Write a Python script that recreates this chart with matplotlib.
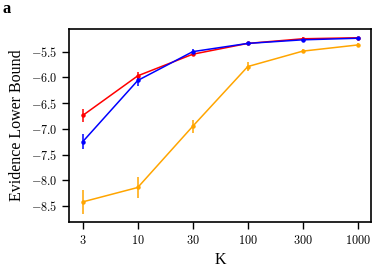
import numpy as np
import matplotlib
matplotlib.use("Agg")
import matplotlib.pyplot as plt

plt.rcParams['font.family'] = ['Liberation Serif', 'DejaVu Serif']
plt.rcParams['mathtext.fontset'] = 'cm'

K = [3, 10, 30, 100, 300, 1000]

orange_y = [-8.42, -8.14, -6.95, -5.79, -5.49, -5.37]
orange_err = [0.23, 0.20, 0.13, 0.08, 0.04, 0.03]

red_y = [-6.74, -5.97, -5.55, -5.34, -5.25, -5.23]
red_err = [0.13, 0.08, 0.04, 0.03, 0.03, 0.02]

blue_y = [-7.25, -6.06, -5.50, -5.34, -5.27, -5.24]
blue_err = [0.15, 0.10, 0.05, 0.03, 0.03, 0.02]

yticks = [-8.5, -8.0, -7.5, -7.0, -6.5, -6.0, -5.5]

fig = plt.figure(figsize=(3.74, 2.7), dpi=100)
ax = fig.add_axes([0.1845, 0.178, 0.8075, 0.7146])

x = np.arange(len(K))
for ys, es, c in [(orange_y, orange_err, 'orange'),
                  (red_y, red_err, 'red'),
                  (blue_y, blue_err, 'blue')]:
    ax.errorbar(x, ys, yerr=es, color=c, marker='o', markersize=2.2,
                linewidth=1.1, elinewidth=1.1, capsize=0)

ax.set_xlim(-0.25, 5.24)
ax.set_ylim(-8.81, -5.06)
ax.set_xticks(x)
ax.set_xticklabels(['$%d$' % k for k in K])
ax.set_yticks(yticks)
ax.set_yticklabels(['$%.1f$' % v for v in yticks])
ax.tick_params(labelsize=8.8, length=5, width=1)
for s in ax.spines.values():
    s.set_linewidth(1.2)

ax.set_xlabel('K', fontsize=11.5)
ax.set_ylabel('Evidence Lower Bound', fontsize=11.5)
fig.text(0.008, 0.952, 'a', fontsize=12, fontweight='bold')

plt.savefig("out.png", dpi=100)
